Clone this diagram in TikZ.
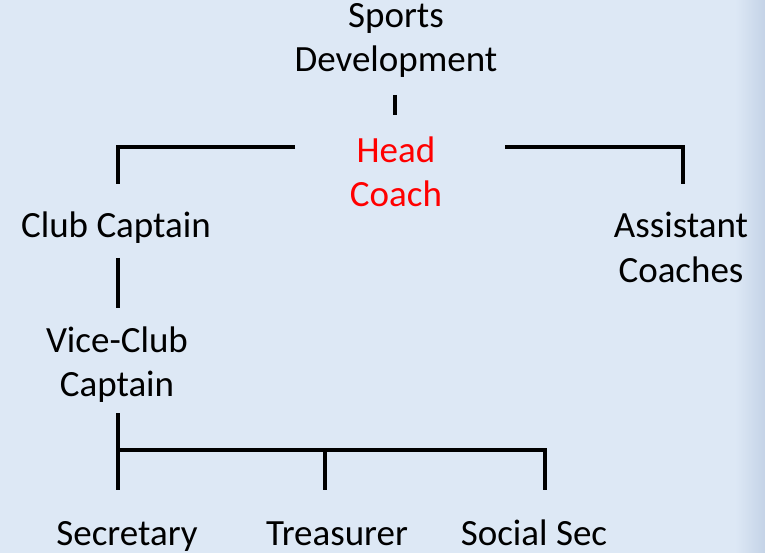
\documentclass[tikz,border=0pt]{standalone}
\usepackage{fontspec}
\setmainfont{Carlito}
\definecolor{bgblue}{RGB}{221,232,245}
\definecolor{bgedge}{RGB}{196,211,231}
\definecolor{headred}{RGB}{255,0,0}
\begin{document}
\begin{tikzpicture}[x=1pt,y=-1pt,
  lbl/.style={inner sep=0pt,anchor=base,align=center,font=\fontsize{37}{44}\selectfont,text=black},
  conn/.style={line width=4pt,draw=black}]
\fill[bgblue] (0,0) rectangle (765,553);
\shade[left color=bgblue,right color=bgedge] (735,0) rectangle (765,553);
\useasboundingbox (0,0) rectangle (765,553);
% nodes (base anchor = baseline of last line)
\node[lbl] (sd) at (396,72) {Sports\\Development};
\node[lbl,text=headred] (hc) at (396,207) {Head\\Coach};
\node[lbl] (cc) at (116,237) {Club Captain};
\node[lbl] (ac) at (681,282) {Assistant\\Coaches};
\node[lbl] (vc) at (117,396) {Vice-Club\\Captain};
\node[lbl] (sec) at (127,545) {Secretary};
\node[lbl] (tre) at (337,545) {Treasurer};
\node[lbl] (soc) at (534,545) {Social Sec};
% connector points
\coordinate (t1) at (395,95);
\coordinate (t2) at (395,115);
\coordinate (la) at (295,147);
\coordinate (lc) at (118,147);
\coordinate (lb) at (118,184);
\coordinate (ra) at (505,147);
\coordinate (rc) at (683,147);
\coordinate (rb) at (683,184);
\coordinate (v1) at (118,258);
\coordinate (v2) at (118,308);
\coordinate (w1) at (118,413);
\coordinate (w2) at (118,490);
\coordinate (wm) at (118,450);
\coordinate (mt) at (325,450);
\coordinate (mb) at (325,490);
\coordinate (rt) at (545,450);
\coordinate (rbb) at (545,490);
\draw[conn] (t1) -- (t2);
\draw[conn] (la) -- (lc) -- (lb);
\draw[conn] (ra) -- (rc) -- (rb);
\draw[conn] (v1) -- (v2);
\draw[conn] (w1) -- (w2);
\draw[conn] (wm) -- (rt) -- (rbb);
\draw[conn] (mt) -- (mb);
\end{tikzpicture}
\end{document}
